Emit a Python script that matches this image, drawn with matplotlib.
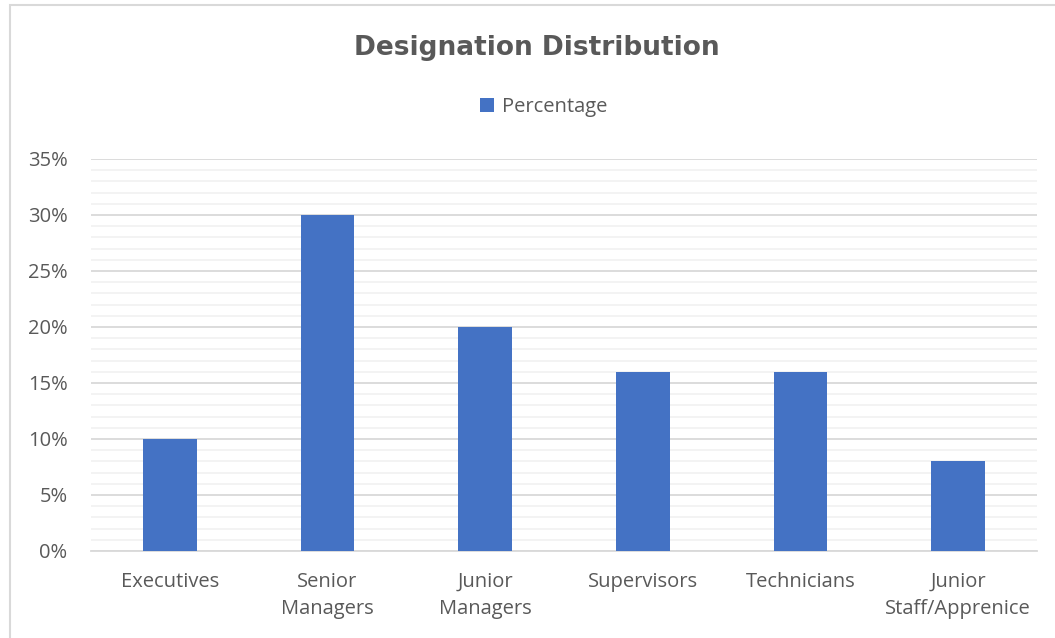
import matplotlib.pyplot as plt
from matplotlib.patches import Rectangle
from matplotlib.ticker import MultipleLocator, PercentFormatter

categories = ['Executives', 'Senior\nManagers', 'Junior\nManagers', 'Supervisors',
              'Technicians', 'Junior\nStaff/Apprenice']
percentage = [10, 30, 20, 16, 16, 8]

grey = '#595959'
blue = '#4472C4'
plt.rcParams['font.family'] = ['Open Sans', 'DejaVu Sans']

fig = plt.figure(figsize=(10.55, 6.38), dpi=100)
ax = fig.add_axes([0.0863, 0.1364, 0.8967, 0.6144])

x = range(len(categories))
ax.bar(x, percentage, width=0.34, color=blue, zorder=3, label='Percentage')

ax.set_xlim(-0.5, len(categories) - 0.5)
ax.set_ylim(0, 35)
ax.yaxis.set_major_locator(MultipleLocator(5))
ax.yaxis.set_minor_locator(MultipleLocator(1))
ax.yaxis.set_major_formatter(PercentFormatter(decimals=0))
ax.grid(axis='y', which='major', color='#D9D9D9', linewidth=1.3, zorder=0)
ax.grid(axis='y', which='minor', color='#F2F2F2', linewidth=1.3, zorder=0)
ax.set_axisbelow(True)

ax.set_xticks(list(x))
ax.set_xticklabels(categories, fontsize=14.5, color=grey, linespacing=1.45)
ax.tick_params(axis='y', which='both', length=0, labelsize=14.5, labelcolor=grey, pad=17)
ax.tick_params(axis='x', length=0, pad=15)
for s in ['top', 'right', 'left']:
    ax.spines[s].set_visible(False)
ax.spines['bottom'].set_color('#D9D9D9')
ax.spines['bottom'].set_linewidth(1.3)

fig.text(0.509, 0.925, 'Designation Distribution', ha='center', va='center',
         fontsize=19, fontweight='heavy', color=grey,
         family=['DejaVu Sans'])
fig.legend(loc='center', bbox_to_anchor=(0.515, 0.832), frameon=False,
           fontsize=14.5, labelcolor=grey, handlelength=0.7, handleheight=0.7,
           handletextpad=0.4)

# chart area border
fig.patches.append(Rectangle((10 / 1055, -0.1), 1.2, 1.1 - 5 / 638, transform=fig.transFigure,
                             fill=False, edgecolor='#D9D9D9', linewidth=1.5))

fig.savefig('out.png', dpi=100)
